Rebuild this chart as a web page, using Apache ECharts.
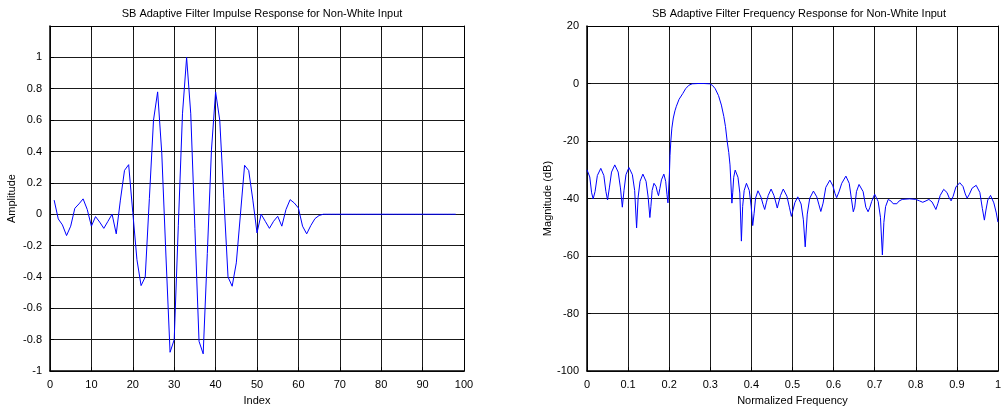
<!DOCTYPE html>
<html>
<head>
<meta charset="utf-8">
<script src="https://cdn.jsdelivr.net/npm/echarts@6/dist/echarts.min.js"></script>
<style>
html,body{margin:0;padding:0;background:#fff;}
#chart{width:1004px;height:411px;}
</style>
</head>
<body>
<div id="chart"></div>
<script>
// ---- Data ----
const leftTitle = 'SB Adaptive Filter Impulse Response for Non-White Input';
const rightTitle = 'SB Adaptive Filter Frequency Response for Non-White Input';

// impulse response, sample index 1..98
const impulseValues = [
  0.09, -0.03, -0.068, -0.136, -0.076, 0.038, 0.066, 0.098, 0.03, -0.076,
  -0.015, -0.05, -0.09, -0.045, 0.0, -0.125, 0.09, 0.28, 0.316, 0.01,
  -0.29, -0.455, -0.40, 0.10, 0.60, 0.78, 0.39, -0.26, -0.88, -0.80,
  -0.07, 0.64, 1.0, 0.64, -0.09, -0.81, -0.89, -0.25, 0.41, 0.78,
  0.60, 0.10, -0.40, -0.459, -0.31, 0.0, 0.312, 0.278, 0.09, -0.119,
  0.0, -0.045, -0.09, -0.045, -0.013, -0.076, 0.03, 0.093, 0.072, 0.04,
  -0.076, -0.125, -0.072, -0.028, -0.008, 0, 0, 0, 0, 0,
  0, 0, 0, 0, 0, 0, 0, 0, 0, 0,
  0, 0, 0, 0, 0, 0, 0, 0, 0, 0,
  0, 0, 0, 0, 0, 0, 0, 0
];

// frequency response (normalized frequency, dB)
const freq = [
  0.000, 0.00675, 0.01125, 0.015, 0.0197, 0.0252, 0.0336, 0.041, 0.0459, 0.050,
  0.0544, 0.0597, 0.0676, 0.0759, 0.0814, 0.086, 0.090, 0.0948, 0.102, 0.1104,
  0.116, 0.1207, 0.1245, 0.1291, 0.136, 0.1437, 0.1488, 0.153, 0.1555, 0.1585,
  0.163, 0.168, 0.1713, 0.174, 0.1773, 0.1812, 0.187, 0.1915, 0.1945, 0.197,
  0.2005, 0.202, 0.204, 0.2065, 0.210, 0.214, 0.2175, 0.224, 0.233, 0.240,
  0.248, 0.256, 0.270, 0.285, 0.298, 0.305, 0.312, 0.320, 0.327, 0.333,
  0.337, 0.341, 0.345, 0.348, 0.3526, 0.3546, 0.357, 0.3606, 0.3674,
  0.3719, 0.3757, 0.3788, 0.3825, 0.388, 0.3949, 0.3995, 0.4033, 0.4065, 0.4103,
  0.416, 0.4234, 0.4283, 0.4324, 0.4363, 0.441, 0.448, 0.4548, 0.4593, 0.463,
  0.4667, 0.471, 0.4776, 0.4865, 0.4925, 0.4974, 0.5013, 0.5059, 0.5129, 0.521,
  0.5265, 0.531, 0.536, 0.542, 0.551, 0.5591, 0.5645, 0.569, 0.5745, 0.5811,
  0.591, 0.5984, 0.6034, 0.6075, 0.6131, 0.6199, 0.630, 0.6381, 0.6435, 0.648,
  0.6515, 0.6557, 0.662, 0.6719, 0.6785, 0.684, 0.688, 0.6928, 0.700, 0.7085,
  0.7141, 0.7188, 0.7224, 0.7266, 0.733, 0.740, 0.745, 0.749, 0.754, 0.759,
  0.767, 0.785, 0.800, 0.809, 0.817, 0.825, 0.832, 0.8397, 0.8448, 0.849,
  0.8537, 0.8595, 0.868, 0.876, 0.8815, 0.886, 0.891, 0.8976, 0.907, 0.915,
  0.9205, 0.925, 0.9305, 0.9371, 0.947, 0.956, 0.962, 0.967, 0.9708, 0.9753,
  0.982, 0.990, 0.996, 1.000
];
const magDb = [
  -30.0, -32.5, -38, -40.1, -37.5, -32, -29.5, -32, -37.5, -40.5,
  -36.3, -30.8, -28.3, -30.8, -36.3, -43, -37.2, -31.7, -29.2, -31.7,
  -37.2, -50.2, -39.5, -34, -31.5, -34, -39.5, -46.6, -42.7, -37.2,
  -34.7, -35.8, -37.8, -39.0, -36.5, -33.5, -31.5, -34, -38.5, -41.5,
  -31.5, -25, -20, -15.5, -12, -9.5, -7.9, -5.5, -3.5, -1.8,
  -0.6, -0.1, 0, 0, -0.1, -0.6, -1.8, -4.2, -7.5, -11.5,
  -15, -20, -24, -28.3, -41.6, -38, -32.6, -30.1, -32.6,
  -38.1, -54.8, -42.7, -37.2, -34.7, -37.2, -42.7, -49.4, -45.3, -39.8,
  -37.3, -39.5, -42, -43.8, -41.5, -38.9, -36.7, -38.9, -41.2, -43.3,
  -41.2, -38.9, -36.7, -39.2, -43, -46.2, -44, -41.4, -39.4, -41.9,
  -47.4, -56.8, -45.4, -39.9, -37.4, -39.4, -42.2, -44.5, -41.6, -36.1,
  -33.6, -35.6, -38.2, -39.7, -37.7, -34.7, -32.2, -34.7, -40.2, -44.6,
  -43, -37.6, -35.1, -37.6, -43, -44.6, -43.2, -41, -38.5, -41,
  -46.5, -59.6, -48.3, -42.8, -40.3, -40.9, -41.8, -42.3, -41.8, -40.9,
  -40.3, -40.1, -40.3, -40.8, -41.3, -40.8, -40.3, -41.2, -42.6, -43.8,
  -41.8, -38.9, -36.8, -37.9, -39.8, -40.8, -39.2, -36, -34.5, -35.8,
  -38.4, -39.9, -38.5, -36.4, -35.4, -37.9, -43.4, -47.5, -44, -40.5,
  -38.9, -41.5, -45, -48.2
];

// ---- Chart ----
const FONT = '"Liberation Sans", Arial, Helvetica, sans-serif';
const impulseData = impulseValues.map((v, i) => [i + 1, v]);
const freqData = freq.map((f, i) => [f, magDb[i]]);

function fmt(v) { return String(Math.round(v * 10) / 10); }

function mainAxisCommon() {
  return {
    type: 'value',
    axisLine: { show: true, onZero: false, lineStyle: { color: '#000', width: 1.5 } },
    axisTick: { show: true, inside: true, length: 4, lineStyle: { color: '#000', width: 1 } },
    axisLabel: { color: '#000', fontSize: 11, fontFamily: FONT },
    splitLine: { show: true, lineStyle: { color: '#1a1a1a', width: 1 } },
    nameTextStyle: { color: '#000', fontSize: 11, fontFamily: FONT }
  };
}
function boxAxis(extra) {
  return Object.assign({
    type: 'value',
    axisLine: { show: true, onZero: false, lineStyle: { color: '#000', width: 1 } },
    axisTick: { show: true, inside: true, length: 4, lineStyle: { color: '#000', width: 1 } },
    axisLabel: { show: false },
    splitLine: { show: false }
  }, extra);
}

const chart = echarts.init(document.getElementById('chart'), null, { renderer: 'canvas' });
chart.setOption({
  animation: false,
  backgroundColor: '#fff',
  title: [
    { text: leftTitle, left: 257, top: 3, textAlign: 'center',
      textStyle: { fontSize: 11, fontWeight: 'normal', color: '#000', fontFamily: FONT } },
    { text: rightTitle, left: 794, top: 3, textAlign: 'center',
      textStyle: { fontSize: 11, fontWeight: 'normal', color: '#000', fontFamily: FONT } }
  ],
  grid: [
    { left: 50, right: 540, top: 26, bottom: 39, containLabel: false },
    { left: 587, right: 3, top: 26, bottom: 39, containLabel: false }
  ],
  xAxis: [
    Object.assign(mainAxisCommon(), { gridIndex: 0, position: 'bottom', min: 0, max: 100, interval: 10,
      name: 'Index', nameLocation: 'middle', nameGap: 23 }),
    boxAxis({ gridIndex: 0, position: 'top', min: 0, max: 100, interval: 10 }),
    Object.assign(mainAxisCommon(), { gridIndex: 1, position: 'bottom', min: 0, max: 1, interval: 0.1,
      name: 'Normalized Frequency', nameLocation: 'middle', nameGap: 23,
      axisLabel: { color: '#000', fontSize: 11, fontFamily: FONT, formatter: fmt } }),
    boxAxis({ gridIndex: 1, position: 'top', min: 0, max: 1, interval: 0.1 })
  ],
  yAxis: [
    Object.assign(mainAxisCommon(), { gridIndex: 0, position: 'left', min: -1, max: 1.2, interval: 0.2,
      name: 'Amplitude', nameLocation: 'middle', nameGap: 33,
      axisLabel: { color: '#000', fontSize: 11, fontFamily: FONT,
        formatter: v => (Math.abs(v - 1.2) < 1e-6 ? '' : fmt(v)) } }),
    boxAxis({ gridIndex: 0, position: 'right', min: -1, max: 1.2, interval: 0.2 }),
    Object.assign(mainAxisCommon(), { gridIndex: 1, position: 'left', min: -100, max: 20, interval: 20,
      name: 'Magnitude (dB)', nameLocation: 'middle', nameGap: 33 }),
    boxAxis({ gridIndex: 1, position: 'right', min: -100, max: 20, interval: 20 })
  ],
  series: [
    { type: 'line', xAxisIndex: 0, yAxisIndex: 0, data: impulseData, symbol: 'none',
      lineStyle: { color: '#0000ff', width: 1 }, z: 5 },
    { type: 'line', xAxisIndex: 2, yAxisIndex: 2, data: freqData, symbol: 'none',
      lineStyle: { color: '#0000ff', width: 1 }, z: 5 }
  ]
});
</script>
</body>
</html>
